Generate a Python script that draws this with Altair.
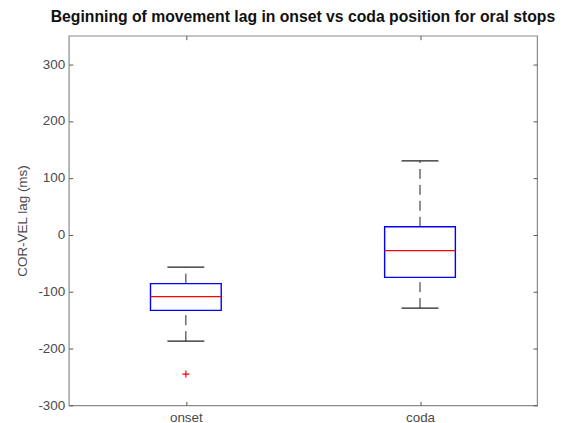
import altair as alt
import pandas as pd

categories = ["onset", "coda"]
whisker_low = [-187, -129]
q1 = [-133, -75]
median = [-109, -28]
q3 = [-86, 14]
whisker_high = [-57, 130]
outlier_cat = ["onset"]
outlier_val = [-245]

y_ticks = [-300, -200, -100, 0, 100, 200, 300]
y_domain = [-300, 350]

box_df = pd.DataFrame({
    "cat": categories, "lo": whisker_low, "q1": q1, "med": median,
    "q3": q3, "hi": whisker_high,
})
out_df = pd.DataFrame({"cat": outlier_cat, "val": outlier_val})

FONT = "Liberation Sans"
LBL = "#4a4a4a"
TICK = "#555555"

xscale = alt.Scale(type="point", padding=0.5)
yscale = alt.Scale(domain=y_domain, nice=False, zero=False)

x_bottom = alt.X("cat:N", sort=categories, scale=xscale,
                 axis=alt.Axis(orient="bottom", title=None, labelAngle=0, offset=-4,
                               tickSize=4, domain=False, labelPadding=5,
                               labelFontSize=13.5, labelColor=LBL, tickColor=TICK,
                               labelFont=FONT))
x_none = alt.X("cat:N", sort=categories, scale=xscale, axis=None)
x_top = alt.X("cat:N", sort=categories, scale=xscale,
              axis=alt.Axis(orient="top", title=None, labels=False, offset=-4,
                            tickSize=4, domain=False, tickColor=TICK))

def ynone(field):
    return alt.Y(field, type="quantitative", scale=yscale, axis=None)

y_left = alt.Y("q1:Q", scale=yscale,
               axis=alt.Axis(orient="left", values=y_ticks, offset=-4, tickSize=4,
                             domain=False, grid=False, labelPadding=4,
                             labelExpr="datum.value < 0 ? '-' + abs(datum.value) : '' + datum.value",
                             labelFontSize=13.5, labelColor=LBL, tickColor=TICK,
                             labelFont=FONT, title="COR-VEL lag (ms)",
                             titleFont=FONT, titleFontSize=13.5,
                             titleFontWeight="normal", titleColor=LBL,
                             titlePadding=8))

base = alt.Chart(box_df)

whisk_up = base.mark_rule(color="#222222", strokeWidth=1, strokeDash=[10, 6]).encode(
    x=x_none, y=ynone("q3"), y2="hi")
whisk_dn = base.mark_rule(color="#222222", strokeWidth=1, strokeDash=[10, 6]).encode(
    x=x_none, y=ynone("lo"), y2="q1")
cap_hi = base.mark_tick(orient="horizontal", size=37, thickness=1.2, color="#222222",
                        opacity=1).encode(x=x_none, y=ynone("hi"))
cap_lo = base.mark_tick(orient="horizontal", size=37, thickness=1.2, color="#222222",
                        opacity=1).encode(x=x_none, y=ynone("lo"))
box = base.mark_bar(size=71, fill="white", fillOpacity=0, stroke="#0000ff",
                    strokeWidth=1.4).encode(x=x_bottom, y=y_left, y2="q3")
med = base.mark_tick(orient="horizontal", size=71, thickness=1.2, color="#ff0000",
                     opacity=1).encode(x=x_none, y=ynone("med"))

outl = alt.Chart(out_df).mark_point(
    shape="M-1,0L1,0M0,-1L0,1", size=50, filled=False, color="#ff0000",
    strokeWidth=1.2, opacity=1
).encode(
    x=x_top,
    y=alt.Y("val:Q", scale=yscale,
            axis=alt.Axis(orient="right", values=y_ticks, labels=False, title=None,
                          offset=-4, tickSize=4, domain=False, grid=False,
                          tickColor=TICK)),
)

chart = alt.layer(whisk_up, whisk_dn, cap_hi, cap_lo, box, med, outl).resolve_axis(
    x="independent", y="independent"
).properties(
    width=470, height=371,
    autosize=alt.AutoSizeParams(type="none"),
    padding={"left": 61, "top": 27, "right": 20, "bottom": 30},
    title=alt.Title("Beginning of movement lag in onset vs coda position for oral stops",
                    font=FONT, fontSize=15.8, fontWeight="bold", color="#111111",
                    anchor="middle", offset=9),
).configure_view(stroke="#8a8a8a", strokeWidth=1.2)

chart.save("out.html", embed_options={"renderer": "svg", "actions": False})
